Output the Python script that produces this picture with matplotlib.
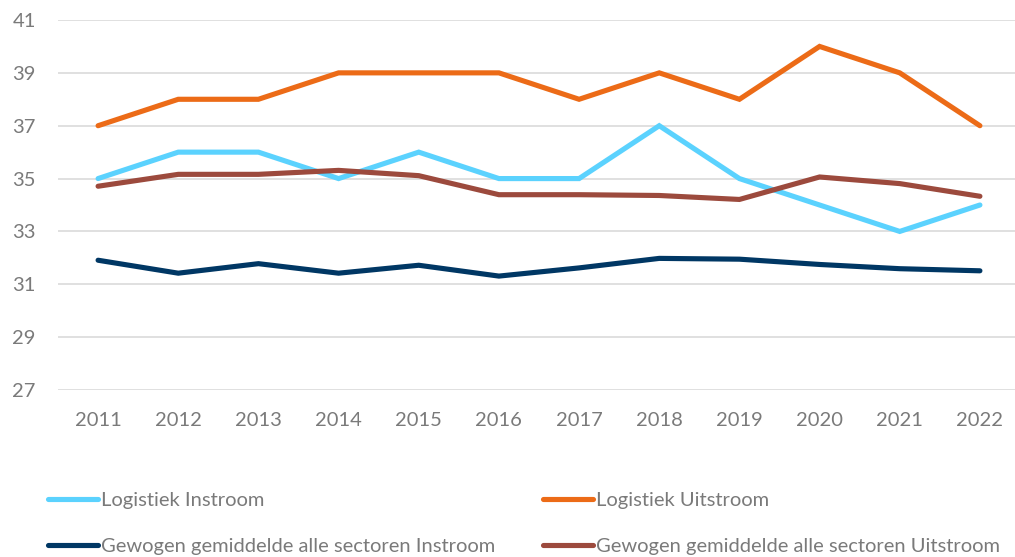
import matplotlib
matplotlib.use("Agg")
import matplotlib.pyplot as plt
from matplotlib.lines import Line2D

years = ["2011", "2012", "2013", "2014", "2015", "2016", "2017", "2018", "2019", "2020", "2021", "2022"]
logistiek_instroom = [35, 36, 36, 35, 36, 35, 35, 37, 35, 34, 33, 34]
logistiek_uitstroom = [37, 38, 38, 39, 39, 39, 38, 39, 38, 40, 39, 37]
gemiddeld_instroom = [31.91, 31.42, 31.78, 31.42, 31.72, 31.31, 31.62, 31.98, 31.95, 31.75, 31.59, 31.51]
gemiddeld_uitstroom = [34.71, 35.16, 35.16, 35.31, 35.11, 34.39, 34.39, 34.36, 34.21, 35.06, 34.81, 34.33]
y_ticks = [27, 29, 31, 33, 35, 37, 39, 41]

series = [
    ("Logistiek Instroom", logistiek_instroom, "#5BD2FE"),
    ("Logistiek Uitstroom", logistiek_uitstroom, "#EC6B17"),
    ("Gewogen gemiddelde alle sectoren Instroom", gemiddeld_instroom, "#003764"),
    ("Gewogen gemiddelde alle sectoren Uitstroom", gemiddeld_uitstroom, "#9C4A3D"),
]

plt.rcParams['font.family'] = ['Lato', 'DejaVu Sans']

W, H = 1015, 557
fig = plt.figure(figsize=(W / 100, H / 100), dpi=100)
left, right, top, bottom = 58, 1020, 20, 390
ax = fig.add_axes([left / W, 1 - bottom / H, (right - left) / W, (bottom - top) / H])

x = list(range(len(years)))
for name, vals, col in series:
    ax.plot(x, vals, color=col, lw=3.7, solid_capstyle='round', solid_joinstyle='miter', label=name, zorder=3)

ax.set_xlim(-0.5, len(years) - 0.5)
ax.set_ylim(27, 41)
ax.set_yticks(y_ticks)
ax.set_yticklabels([str(v) for v in y_ticks])
ax.set_xticks(x)
ax.set_xticklabels(years)
ax.grid(axis='y', color='#DDDDDD', lw=1.3, zorder=0)
ax.set_axisbelow(True)
for s in ax.spines.values():
    s.set_visible(False)
ax.tick_params(axis='both', length=0, labelsize=14.5, labelcolor='#7A7A7A')
ax.tick_params(axis='x', pad=16)
ax.tick_params(axis='y', pad=16)

def make_handle(col):
    return Line2D([], [], color=col, lw=3.7, solid_capstyle='round')

for idx, xpos in [(0, 48), (1, 543)]:
    hs = [make_handle(series[idx][2]), make_handle(series[idx + 2][2])]
    ls = [series[idx][0], series[idx + 2][0]]
    fig.legend(hs, ls, loc='upper left', bbox_to_anchor=(xpos / W, 1 - 492 / H),
               frameon=False, fontsize=14.5, handlelength=2.5, handletextpad=0.15,
               labelspacing=1.45, borderpad=0, borderaxespad=0, labelcolor='#7A7A7A')

fig.savefig("out.png", dpi=100, facecolor='white')
